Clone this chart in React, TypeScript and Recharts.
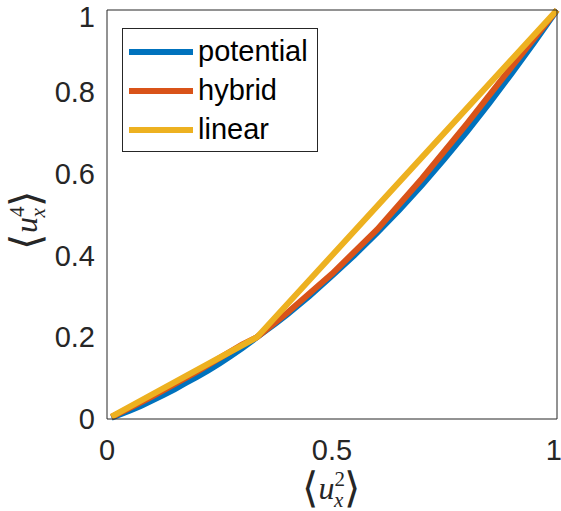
import React from 'react';
import { LineChart, Line, XAxis, YAxis, Legend } from 'recharts';

const potentialX = [0.01, 0.03, 0.05, 0.075, 0.1, 0.125, 0.15, 0.175, 0.2, 0.225, 0.25, 0.275, 0.3, 0.3333, 0.375, 0.4, 0.45, 0.5, 0.55, 0.6, 0.65, 0.7, 0.75, 0.8, 0.85, 0.9, 0.95, 1];
const potentialY = [0.003, 0.0115, 0.0205, 0.032, 0.045, 0.0585, 0.0725, 0.088, 0.103, 0.119, 0.136, 0.154, 0.173, 0.2, 0.234, 0.255, 0.301, 0.35, 0.401, 0.455, 0.512, 0.572, 0.636, 0.703, 0.773, 0.846, 0.922, 1];

const hybridX = [0.01, 0.05, 0.1, 0.15, 0.2, 0.25, 0.3, 0.3333, 0.4, 0.5, 0.6, 0.7, 0.8, 0.9, 1];
const hybridY = [0.005, 0.027, 0.055, 0.085, 0.116, 0.149, 0.182, 0.2, 0.259, 0.355, 0.463, 0.588, 0.722, 0.862, 1];

const linearX = [0.01, 0.3333, 1];
const linearY = [0.006, 0.2, 1];

const xTicks = [0, 0.5, 1];
const yTicks = [0, 0.2, 0.4, 0.6, 0.8, 1];

const seriesNames = ['potential', 'hybrid', 'linear'];
const colors = ['#0072BD', '#D95319', '#EDB120'];

const toRows = (xs: number[], ys: number[]) => xs.map((x, i) => ({ x, y: ys[i] }));
const potentialData = toRows(potentialX, potentialY);
const hybridData = toRows(hybridX, hybridY);
const linearData = toRows(linearX, linearY);

const AX = '#262626';
const SANS = '"Liberation Sans", Arial, Helvetica, sans-serif';

function MathText({ sup, cx, cy, rotate }: { sup: string; cx: number; cy: number; rotate: number }) {
  return (
    <g transform={`translate(${cx},${cy}) rotate(${rotate})`}>
      <text x={0} y={0} textAnchor="middle" fontSize={32} fontFamily='"Liberation Serif", "DejaVu Serif", serif' fill={AX}>
        <tspan fontFamily='"DejaVu Sans", sans-serif' fontWeight={200} fontSize={42} dy={3}>⟨</tspan>
        <tspan fontStyle="italic" dx={1} dy={-3}>u</tspan>
        <tspan fontSize={21} dy={-13}>{sup}</tspan>
        <tspan fontSize={21} fontStyle="italic" dx={-11} dy={21}>x</tspan>
        <tspan fontFamily='"DejaVu Sans", sans-serif' fontWeight={200} fontSize={42} dx={1} dy={-5}>⟩</tspan>
      </text>
    </g>
  );
}

const XLabel = (props: any) => {
  const vb = props.viewBox || { x: 107, y: 419, width: 450, height: 60 };
  return <MathText sup="2" cx={vb.x + vb.width / 2 - 1} cy={vb.y + 80} rotate={0} />;
};

const YLabel = (props: any) => {
  const vb = props.viewBox || { x: 0, y: 10, width: 107, height: 409 };
  return <MathText sup="4" cx={vb.x + 37} cy={vb.y + vb.height / 2 + 6} rotate={-90} />;
};

const LegendBox = (props: any) => {
  const payload = [...(props.payload || [])].sort(
    (a: any, b: any) => seriesNames.indexOf(a.value) - seriesNames.indexOf(b.value)
  );
  return (
    <div
      style={{
        boxSizing: 'border-box',
        width: 196,
        height: 124,
        border: `1px solid ${AX}`,
        background: '#fff',
        paddingTop: 3,
      }}
    >
      {payload.map((p: any) => (
        <div key={p.value} style={{ display: 'flex', alignItems: 'center', height: 39 }}>
          <div style={{ marginLeft: 6, width: 64, height: 6, background: p.color }} />
          <span style={{ marginLeft: 5, fontSize: 29, lineHeight: '39px', fontFamily: SANS, color: '#000' }}>{p.value}</span>
        </div>
      ))}
    </div>
  );
};

const noTick = () => null;

export default function App() {
  return (
    <div style={{ position: 'absolute', left: 0, top: 0, width: 561, height: 511, background: '#fff' }}>
      <LineChart width={561} height={511} margin={{ top: 10, right: 4, bottom: 32, left: 0 }}>
        <XAxis
          dataKey="x"
          type="number"
          domain={[0, 1]}
          ticks={xTicks}
          tickLine={false}
          tickSize={0}
          tickMargin={20}
          height={60}
          axisLine={{ stroke: AX }}
          tick={{ fill: AX, fontSize: 29, fontFamily: SANS }}
          label={<XLabel />}
        />
        <YAxis
          type="number"
          domain={[0, 1]}
          ticks={yTicks}
          tickLine={false}
          tickSize={0}
          tickMargin={12}
          width={107}
          axisLine={{ stroke: AX }}
          tick={{ fill: AX, fontSize: 29, fontFamily: SANS }}
          label={<YLabel />}
        />
        <XAxis xAxisId="bIn" type="number" dataKey="x" domain={[0, 1]} ticks={xTicks} orientation="bottom" mirror tickSize={5} tickLine={{ stroke: AX }} axisLine={false} tick={noTick} />
        <XAxis xAxisId="top" type="number" dataKey="x" domain={[0, 1]} ticks={xTicks} orientation="top" mirror tickSize={5} tickLine={{ stroke: AX }} axisLine={{ stroke: AX }} tick={noTick} />
        <YAxis yAxisId="lIn" type="number" domain={[0, 1]} ticks={yTicks} orientation="left" mirror tickSize={5} tickLine={{ stroke: AX }} axisLine={false} tick={noTick} />
        <YAxis yAxisId="right" type="number" domain={[0, 1]} ticks={yTicks} orientation="right" mirror tickSize={5} tickLine={{ stroke: AX }} axisLine={{ stroke: AX }} tick={noTick} />
        <Legend
          layout="vertical"
          align="center"
          verticalAlign="middle"
          content={<LegendBox />}
          wrapperStyle={{ left: 122, top: 28, width: 196, height: 124 }}
        />
        <Line data={potentialData} dataKey="y" name={seriesNames[0]} stroke={colors[0]} strokeWidth={6} dot={false} isAnimationActive={false} type="linear" />
        <Line data={hybridData} dataKey="y" name={seriesNames[1]} stroke={colors[1]} strokeWidth={6} dot={false} isAnimationActive={false} type="linear" />
        <Line data={linearData} dataKey="y" name={seriesNames[2]} stroke={colors[2]} strokeWidth={6} dot={false} isAnimationActive={false} type="linear" />
      </LineChart>
    </div>
  );
}
